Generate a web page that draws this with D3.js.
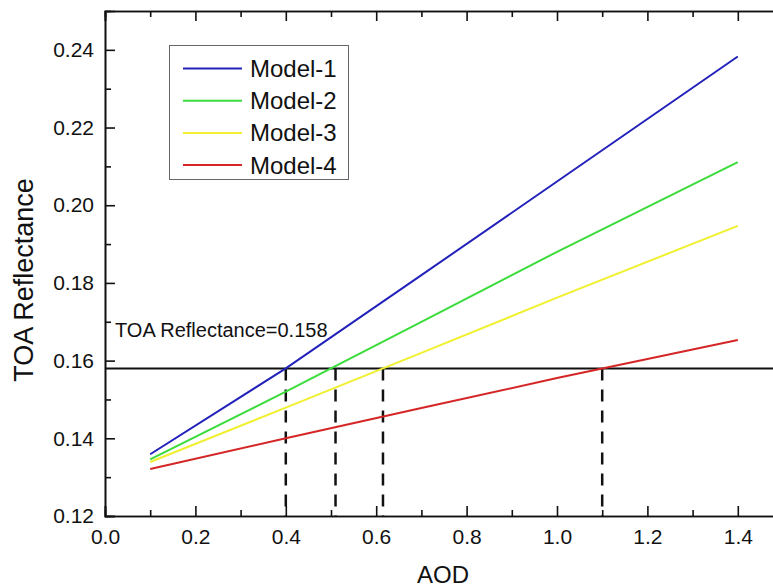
<html>
<head>
<script src="https://d3js.org/d3.v7.min.js"></script>
<style>
  body { margin: 0; background: #fff; }
  text { font-family: "Liberation Sans", Arial, sans-serif; fill: #111; }
  .axis path, .axis line { stroke: #111; stroke-width: 1.6; }
  .axis .tick text { font-size: 21px; font-family: "Liberation Sans", Arial, sans-serif; }
</style>
</head>
<body>
<svg width="773" height="588"></svg>
<script>
// data
const aod = [0.1, 0.4, 0.7, 1.0, 1.4]
const model1 = [0.1359, 0.1580, 0.1820, 0.2061, 0.2383]
const model2 = [0.1346, 0.1520, 0.1700, 0.1880, 0.2111]
const model3 = [0.1339, 0.1479, 0.1620, 0.1762, 0.1947]
const model4 = [0.1321, 0.1400, 0.1478, 0.1555, 0.1653]
const seriesNames = ["Model-1", "Model-2", "Model-3", "Model-4"]
const seriesColors = ["#2222bb", "#3bdc3b", "#f0f030", "#d42626"]
const refLevel = 0.158
const crossAOD = [0.4, 0.51, 0.615, 1.1]
const xTicks = [0, 0.2, 0.4, 0.6, 0.8, 1.0, 1.2, 1.4]
const xMinor = [0.1, 0.3, 0.5, 0.7, 0.9, 1.1, 1.3]
const yTicks = [0.12, 0.14, 0.16, 0.18, 0.20, 0.22, 0.24]
const yMinor = [0.13, 0.15, 0.17, 0.19, 0.21, 0.23]

const svg = d3.select("svg")
const pLeft = 105, pRight = 783, pTop = 11, pBottom = 516

const x = d3.scaleLinear().domain([0, 1.5]).range([pLeft, pRight])
const y = d3.scaleLinear().domain([0.12, 0.25]).range([pBottom, pTop])

// axes (ticks point inward)
svg.append("g").attr("class", "axis").attr("transform", `translate(0,${pBottom})`)
  .call(d3.axisBottom(x).tickValues(xTicks).tickSize(-10).tickPadding(13).tickFormat(d3.format(".1f")))
svg.append("g").attr("class", "axis").attr("transform", `translate(0,${pBottom})`)
  .call(d3.axisBottom(x).tickValues(xMinor).tickSize(-6).tickFormat(""))
svg.append("g").attr("class", "axis").attr("transform", `translate(0,${pTop})`)
  .call(d3.axisTop(x).tickValues(xTicks).tickSize(-10).tickFormat(""))
svg.append("g").attr("class", "axis").attr("transform", `translate(0,${pTop})`)
  .call(d3.axisTop(x).tickValues(xMinor).tickSize(-6).tickFormat(""))

svg.append("g").attr("class", "axis").attr("transform", `translate(${pLeft},0)`)
  .call(d3.axisLeft(y).tickValues(yTicks).tickSize(-10).tickPadding(11).tickFormat(d3.format(".2f")))
svg.append("g").attr("class", "axis").attr("transform", `translate(${pLeft},0)`)
  .call(d3.axisLeft(y).tickValues(yMinor).tickSize(-6).tickFormat(""))
svg.append("g").attr("class", "axis").attr("transform", `translate(${pRight},0)`)
  .call(d3.axisRight(y).tickValues(yTicks).tickSize(-10).tickFormat(""))
svg.append("g").attr("class", "axis").attr("transform", `translate(${pRight},0)`)
  .call(d3.axisRight(y).tickValues(yMinor).tickSize(-6).tickFormat(""))

svg.selectAll(".axis").attr("font-size", 21)

// reference line and drop lines
svg.append("line")
  .attr("x1", pLeft).attr("x2", pRight)
  .attr("y1", y(refLevel)).attr("y2", y(refLevel))
  .attr("stroke", "#111").attr("stroke-width", 2)

svg.selectAll(".drop").data(crossAOD).enter().append("line")
  .attr("x1", d => x(d)).attr("x2", d => x(d))
  .attr("y1", y(refLevel)).attr("y2", pBottom)
  .attr("stroke", "#111").attr("stroke-width", 2.5)
  .attr("stroke-dasharray", "12,9")

// series
const allSeries = [model1, model2, model3, model4]
const line = d3.line().x((d, i) => x(aod[i])).y(d => y(d))
svg.selectAll(".series").data(allSeries).enter().append("path")
  .attr("d", d => line(d))
  .attr("fill", "none")
  .attr("stroke", (d, i) => seriesColors[i])
  .attr("stroke-width", 2)

// annotation
svg.append("text").attr("x", 115).attr("y", 337)
  .style("font-size", "20px").text("TOA Reflectance=0.158")

// legend
const lg = svg.append("g")
lg.append("rect").attr("x", 169.5).attr("y", 45.5).attr("width", 179).attr("height", 134)
  .attr("fill", "#fff").attr("stroke", "#666").attr("stroke-width", 1)
seriesNames.forEach((name, i) => {
  const ly = 68.5 + i * 32.2
  lg.append("line").attr("x1", 183).attr("x2", 242).attr("y1", ly).attr("y2", ly)
    .attr("stroke", seriesColors[i]).attr("stroke-width", 2)
  lg.append("text").attr("x", 250).attr("y", ly).attr("dy", "0.35em")
    .style("font-size", "24px").text(name)
})

// axis titles
svg.append("text").attr("x", 443).attr("y", 583).attr("text-anchor", "middle")
  .style("font-size", "24px").text("AOD")
svg.append("text").attr("transform", "translate(33,280) rotate(-90)")
  .attr("text-anchor", "middle").style("font-size", "27px").text("TOA Reflectance")
</script>
</body>
</html>
